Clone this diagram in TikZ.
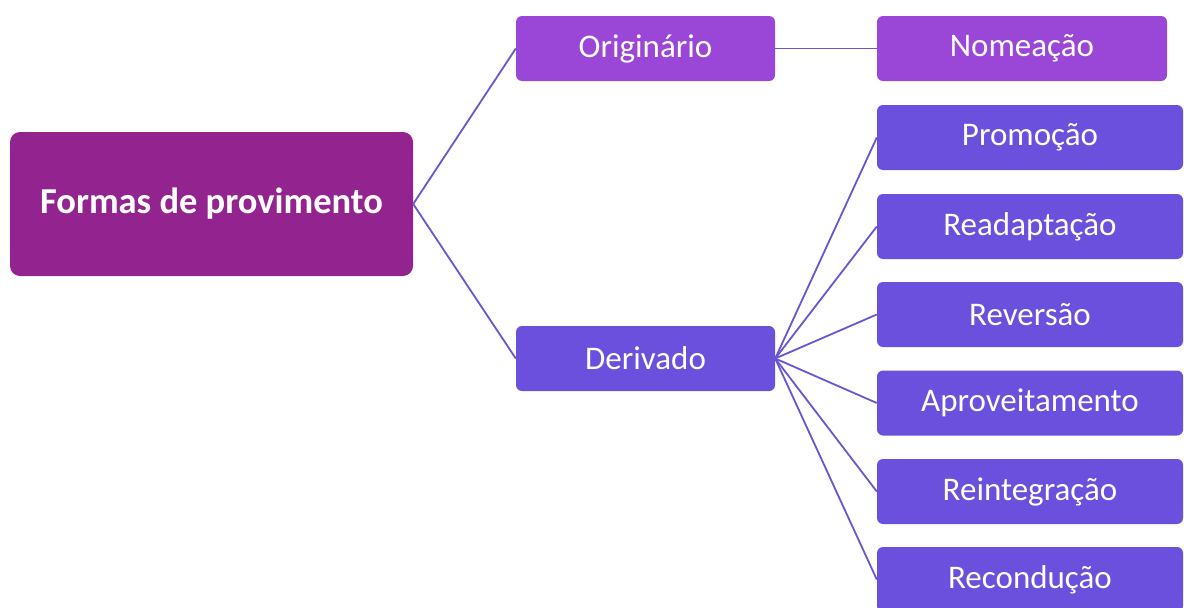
\documentclass[tikz,border=0pt]{standalone}
\usepackage{fontspec}
\setmainfont{Carlito}
\definecolor{rootc}{HTML}{93248F}
\definecolor{origc}{HTML}{9A47D8}
\definecolor{derc}{HTML}{6A50DC}
\definecolor{linec}{HTML}{6A55D2}
\tikzset{
  box/.style={rectangle, rounded corners=6pt, text=white, inner sep=0pt,
    font=\fontsize{33}{40}\selectfont, minimum height=65pt},
  rootbox/.style={box, fill=rootc, rounded corners=10pt, minimum width=403pt, minimum height=144pt,
    font=\fontsize{36.5}{44}\selectfont\bfseries},
  obox/.style={box, fill=origc},
  dbox/.style={box, fill=derc},
  conn/.style={draw=linec, line width=1.8pt}
}
\begin{document}
\begin{tikzpicture}[x=1pt,y=-1pt]
\useasboundingbox[fill=white] (0,0) rectangle (1184,608);
\node[rootbox] (root) at (211.5,204) {Formas de provimento};
\node[obox, minimum width=259pt] (orig) at (645.5,48.5) {Originário};
\node[dbox, minimum width=259pt] (der) at (645.5,358.5) {Derivado};
\node[obox, minimum width=290pt] (nom) at (1022,48.5) {Nomeação};
\node[dbox, minimum width=306pt] (pro) at (1030,137.5) {Promoção};
\node[dbox, minimum width=306pt] (rea) at (1030,226.5) {Readaptação};
\node[dbox, minimum width=306pt] (rev) at (1030,314.5) {Reversão};
\node[dbox, minimum width=306pt] (apr) at (1030,403) {Aproveitamento};
\node[dbox, minimum width=306pt] (rei) at (1030,491.5) {Reintegração};
\node[dbox, minimum width=306pt] (rec) at (1030,579.5) {Recondução};
\draw[conn] (root.east) -- (orig.west);
\draw[conn] (root.east) -- (der.west);
\draw[conn] (orig.east) -- (nom.west);
\foreach \n in {pro,rea,rev,apr,rei,rec}
  \draw[conn] (der.east) -- (\n.west);
\end{tikzpicture}
\end{document}
